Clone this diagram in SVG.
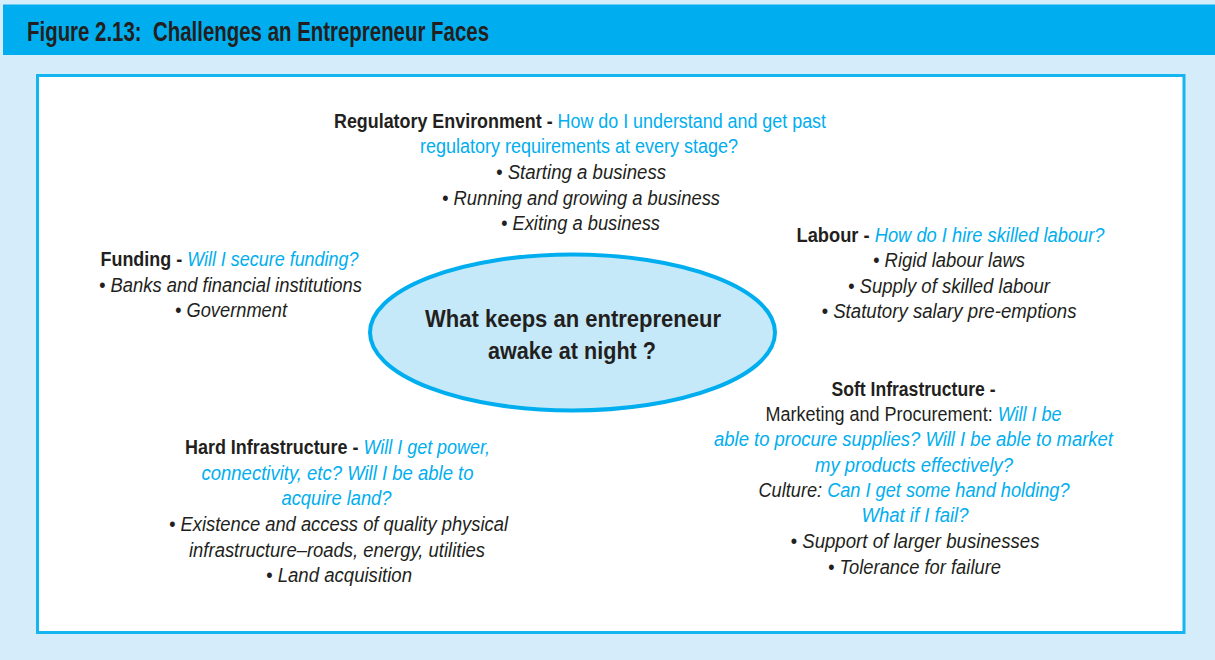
<svg xmlns="http://www.w3.org/2000/svg" width="1215" height="660" viewBox="0 0 1215 660">
  <style>
    text { font-family: "Liberation Sans", Arial, sans-serif; font-size: 20px; fill: #231F20; }
    .b { font-weight: bold; }
    .i { font-style: italic; }
    .q { fill: #00AEEF; }
    .title { font-size: 28px; font-weight: bold; fill: #231F20; }
    .hub { font-size: 24px; font-weight: bold; }
  </style>

  <!-- page background and header band -->
  <rect x="0" y="0" width="1215" height="660" fill="#D5EDFA"/>
  <rect x="3" y="4.5" width="1212" height="50.5" fill="#00AEEF"/>
  <g id="title">
    <text class="title" x="27" y="41" textLength="462" lengthAdjust="spacingAndGlyphs" xml:space="preserve">Figure 2.13:  Challenges an Entrepreneur Faces</text>
  </g>

  <!-- white panel -->
  <rect id="panel" x="37.5" y="75.5" width="1146.5" height="557" fill="#FFFFFF" stroke="#15B5EF" stroke-width="3"/>

  <!-- central question -->
  <g id="hub">
    <ellipse cx="572.5" cy="332.5" rx="202.5" ry="78" fill="#C5E9F9" stroke="#00AEEF" stroke-width="4"/>
    <text class="hub" x="425" y="327" textLength="296" lengthAdjust="spacingAndGlyphs">What keeps an entrepreneur</text>
    <text class="hub" x="488" y="359" textLength="168" lengthAdjust="spacingAndGlyphs">awake at night ?</text>
  </g>

  <!-- regulatory environment -->
  <g id="regulatory">
    <text x="334" y="128" textLength="492" lengthAdjust="spacingAndGlyphs"><tspan class="b">Regulatory Environment -</tspan><tspan class="q"> How do I understand and get past</tspan></text>
    <text class="q" x="420" y="153" textLength="318" lengthAdjust="spacingAndGlyphs">regulatory requirements at every stage?</text>
    <text class="i" x="496" y="179" textLength="170" lengthAdjust="spacingAndGlyphs">• Starting a business</text>
    <text class="i" x="442" y="204.5" textLength="278" lengthAdjust="spacingAndGlyphs">• Running and growing a business</text>
    <text class="i" x="501" y="230" textLength="159" lengthAdjust="spacingAndGlyphs">• Exiting a business</text>
  </g>

  <!-- funding -->
  <g id="funding">
    <text x="100.5" y="266" textLength="258" lengthAdjust="spacingAndGlyphs"><tspan class="b">Funding -</tspan><tspan class="q i"> Will I secure funding?</tspan></text>
    <text class="i" x="99" y="291.5" textLength="263" lengthAdjust="spacingAndGlyphs">• Banks and financial institutions</text>
    <text class="i" x="175" y="317" textLength="112" lengthAdjust="spacingAndGlyphs">• Government</text>
  </g>

  <!-- labour -->
  <g id="labour">
    <text x="796.5" y="241.5" textLength="308" lengthAdjust="spacingAndGlyphs"><tspan class="b">Labour -</tspan><tspan class="q i"> How do I hire skilled labour?</tspan></text>
    <text class="i" x="873" y="267" textLength="152" lengthAdjust="spacingAndGlyphs">• Rigid labour laws</text>
    <text class="i" x="848" y="292.5" textLength="202" lengthAdjust="spacingAndGlyphs">• Supply of skilled labour</text>
    <text class="i" x="821.5" y="318" textLength="255" lengthAdjust="spacingAndGlyphs">• Statutory salary pre-emptions</text>
  </g>

  <!-- soft infrastructure -->
  <g id="soft-infrastructure">
    <text class="b" x="831.5" y="395.5" textLength="164" lengthAdjust="spacingAndGlyphs">Soft Infrastructure -</text>
    <text x="765.5" y="421" textLength="296" lengthAdjust="spacingAndGlyphs"><tspan>Marketing and Procurement:</tspan><tspan class="q i"> Will I be</tspan></text>
    <text class="q i" x="714" y="446" textLength="399" lengthAdjust="spacingAndGlyphs">able to procure supplies? Will I be able to market</text>
    <text class="q i" x="815" y="471.5" textLength="198" lengthAdjust="spacingAndGlyphs">my products effectively?</text>
    <text class="i" x="758.5" y="497" textLength="311" lengthAdjust="spacingAndGlyphs"><tspan>Culture:</tspan><tspan class="q"> Can I get some hand holding?</tspan></text>
    <text class="q i" x="861.5" y="522" textLength="107" lengthAdjust="spacingAndGlyphs">What if I fail?</text>
    <text class="i" x="790.5" y="548" textLength="249" lengthAdjust="spacingAndGlyphs">• Support of larger businesses</text>
    <text class="i" x="828" y="573.5" textLength="173" lengthAdjust="spacingAndGlyphs">• Tolerance for failure</text>
  </g>

  <!-- hard infrastructure -->
  <g id="hard-infrastructure">
    <text x="185" y="454" textLength="305" lengthAdjust="spacingAndGlyphs"><tspan class="b">Hard Infrastructure -</tspan><tspan class="q i"> Will I get power,</tspan></text>
    <text class="q i" x="201.5" y="480" textLength="272" lengthAdjust="spacingAndGlyphs">connectivity, etc? Will I be able to</text>
    <text class="q i" x="281.5" y="505" textLength="110" lengthAdjust="spacingAndGlyphs">acquire land?</text>
    <text class="i" x="169" y="531" textLength="339" lengthAdjust="spacingAndGlyphs">• Existence and access of quality physical</text>
    <text class="i" x="189" y="557" textLength="296" lengthAdjust="spacingAndGlyphs">infrastructure–roads, energy, utilities</text>
    <text class="i" x="266" y="582" textLength="146" lengthAdjust="spacingAndGlyphs">• Land acquisition</text>
  </g>
</svg>
